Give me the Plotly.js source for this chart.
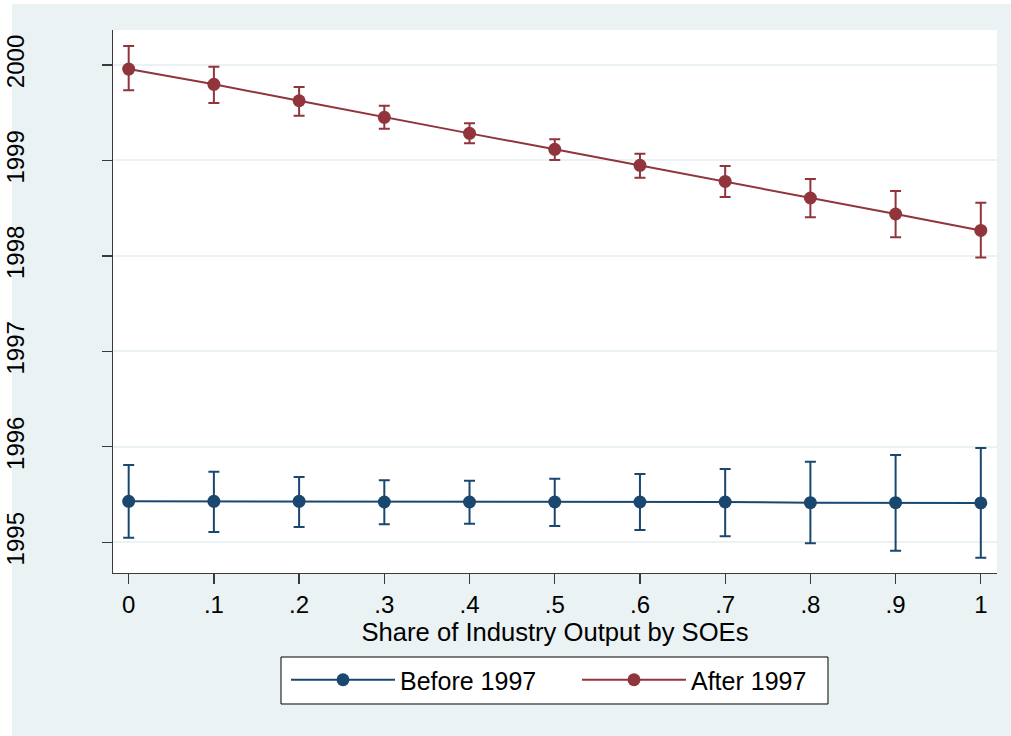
<!DOCTYPE html>
<html>
<head>
<meta charset="utf-8">
<script src="https://cdn.plot.ly/plotly-3.0.1.min.js"></script>
<style>
  html, body { margin: 0; padding: 0; background: #ffffff; }
  #chart { width: 1011px; height: 736px; }
</style>
</head>
<body>
<div id="chart"></div>
<script>
// Share of industry output by SOEs
const shares = [0, 0.1, 0.2, 0.3, 0.4, 0.5, 0.6, 0.7, 0.8, 0.9, 1];
const shareLabels = ['0', '.1', '.2', '.3', '.4', '.5', '.6', '.7', '.8', '.9', '1'];

// Before 1997: point estimates and confidence bounds
const before = [1995.429, 1995.429, 1995.429, 1995.422, 1995.422, 1995.422, 1995.422, 1995.422, 1995.415, 1995.415, 1995.412];
const beforeHi = [1995.810, 1995.740, 1995.684, 1995.649, 1995.645, 1995.666, 1995.716, 1995.768, 1995.844, 1995.915, 1995.988];
const beforeLo = [1995.048, 1995.108, 1995.160, 1995.189, 1995.195, 1995.171, 1995.129, 1995.063, 1994.990, 1994.912, 1994.839];

// After 1997: point estimates and confidence bounds
const after = [1999.958, 1999.798, 1999.626, 1999.452, 1999.284, 1999.117, 1998.949, 1998.781, 1998.607, 1998.439, 1998.267];
const afterHi = [2000.199, 1999.982, 1999.770, 1999.574, 1999.389, 1999.222, 1999.070, 1998.942, 1998.806, 1998.680, 1998.556];
const afterLo = [1999.735, 1999.602, 1999.469, 1999.333, 1999.180, 1999.005, 1998.819, 1998.617, 1998.405, 1998.195, 1997.984];

const yTicks = [1995, 1996, 1997, 1998, 1999, 2000];
const seriesNames = ['Before 1997', 'After 1997'];

const NAVY = '#1A476F';
const MAROON = '#90353B';
const BG = '#EAF2F3';
const FONT = 'Liberation Sans, Arial, sans-serif';

function mkTrace(name, y, hi, lo, color) {
  return {
    type: 'scatter',
    mode: 'lines+markers',
    name: name,
    x: shares,
    y: y,
    line: { color: color, width: 2 },
    marker: { color: color, size: 13, symbol: 'circle' },
    error_y: {
      type: 'data',
      symmetric: false,
      array: hi.map((v, i) => v - y[i]),
      arrayminus: lo.map((v, i) => y[i] - v),
      color: color,
      thickness: 2,
      width: 5.5
    }
  };
}

const data = [
  mkTrace(seriesNames[0], before, beforeHi, beforeLo, NAVY),
  mkTrace(seriesNames[1], after, afterHi, afterLo, MAROON)
];

const layout = {
  width: 1011,
  height: 736,
  margin: { l: 113, r: 14, t: 30, b: 163, pad: 0 },
  paper_bgcolor: '#ffffff',
  plot_bgcolor: '#ffffff',
  font: { family: FONT, color: '#000000', size: 24 },
  showlegend: true,
  shapes: [
    // outer graph region
    { type: 'rect', xref: 'paper', yref: 'paper', layer: 'below',
      x0: -0.11425, x1: 1.05, y0: -0.35, y1: 1.04788,
      fillcolor: BG, line: { width: 0 } },
    // plot region
    { type: 'rect', xref: 'paper', yref: 'paper', layer: 'below',
      x0: 0, x1: 1, y0: 0, y1: 1,
      fillcolor: '#ffffff', line: { width: 0 } },
    // legend frame
    { type: 'rect', xref: 'paper', yref: 'paper', layer: 'below',
      x0: 0.19005, x1: 0.80882, y0: -0.24125, y1: -0.15470,
      fillcolor: '#ffffff', line: { color: '#000000', width: 1 } }
  ],
  xaxis: {
    range: [-0.0184, 1.019],
    tickvals: shares,
    ticktext: shareLabels,
    showgrid: false,
    zeroline: false,
    showline: true,
    linecolor: '#3a3a3a',
    linewidth: 1.3,
    ticks: 'outside',
    ticklen: 10,
    tickwidth: 1.3,
    tickcolor: '#3a3a3a',
    tickfont: { family: FONT, size: 24, color: '#000000' },
    title: { text: 'Share of Industry Output by SOEs', font: { family: FONT, size: 25.6, color: '#000000' }, standoff: 0 }
  },
  yaxis: {
    range: [1994.678, 2000.367],
    tickvals: yTicks,
    tickangle: -90,
    showgrid: true,
    gridcolor: BG,
    gridwidth: 2,
    zeroline: false,
    showline: true,
    linecolor: '#3a3a3a',
    linewidth: 1.3,
    ticks: 'outside',
    ticklen: 10,
    tickwidth: 1.3,
    tickcolor: '#3a3a3a',
    ticklabelstandoff: 68,
    tickfont: { family: FONT, size: 24, color: '#000000' }
  },
  legend: {
    orientation: 'h',
    x: 0.19570, xanchor: 'left',
    y: -0.1547, yanchor: 'top',
    bgcolor: 'rgba(0,0,0,0)',
    borderwidth: 0,
    itemwidth: 104,
    entrywidth: 172,
    font: { family: FONT, size: 25, color: '#000000' }
  }
};

Plotly.newPlot('chart', data, layout, { displayModeBar: false, staticPlot: true });
</script>
</body>
</html>
